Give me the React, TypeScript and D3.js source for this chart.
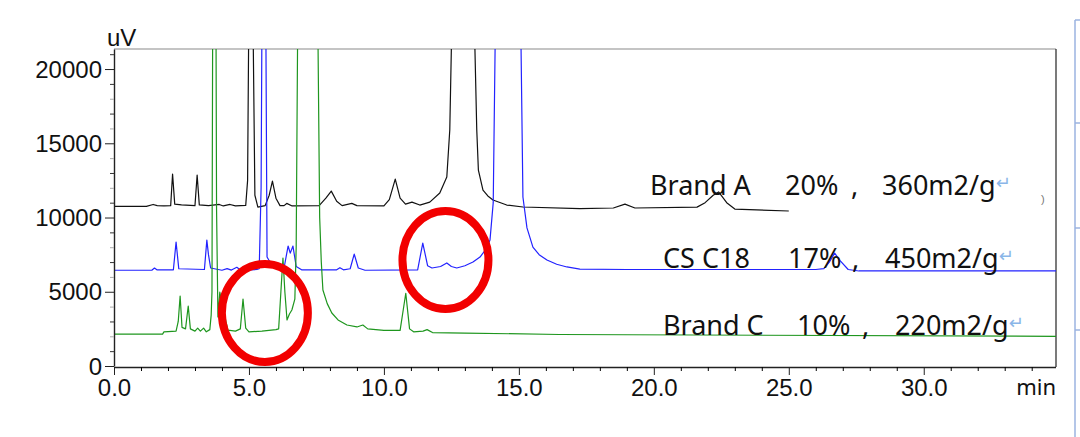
import { useEffect, useRef } from "react";
import * as d3 from "d3";

// [time (min), signal (uV)]
const brandA: [number, number][] = [
  [0, 10750], [1.2, 10750], [1.45, 10880], [1.6, 10800], [1.85, 10780], [2.1, 10800],
  [2.17, 12930], [2.25, 10900], [2.5, 10850], [3.0, 10800], [3.08, 12860], [3.16, 10850],
  [3.5, 10800], [3.9, 10880], [4.05, 10780], [4.3, 10880], [4.5, 10780], [4.88, 10820],
  [4.95, 12500], [5.0, 25000], [5.07, 40000], [5.14, 25000], [5.22, 11500], [5.33, 10700],
  [5.6, 10800], [5.75, 11500], [5.87, 12450], [6.0, 11300], [6.15, 10800], [6.3, 10800],
  [6.4, 10950], [6.6, 10780], [7.6, 10800], [7.85, 11300], [8.05, 11780], [8.25, 11100],
  [8.45, 10800], [8.81, 10950], [9.0, 10800], [10.0, 10780], [10.2, 11200], [10.42, 12590],
  [10.6, 11300], [10.8, 10900], [11.04, 11040], [11.33, 10840], [11.7, 11040], [12.07, 11650],
  [12.33, 12730], [12.44, 15900], [12.5, 21500], [12.7, 40000], [12.95, 60000], [13.2, 40000],
  [13.37, 21500], [13.44, 15900], [13.5, 13200], [13.67, 11850], [13.85, 11450], [14.04, 11180],
  [14.55, 10840], [15.15, 10710], [17.26, 10600], [18.5, 10640], [18.93, 10900], [19.3, 10640],
  [21.6, 10700], [21.9, 11000], [22.2, 11500], [22.4, 11720], [22.7, 11000], [23.0, 10570],
  [25.0, 10440],
];

const csC18: [number, number][] = [
  [0, 6450], [1.4, 6450], [1.5, 6600], [1.6, 6470], [2.2, 6480], [2.3, 8350], [2.4, 6550],
  [3.35, 6500], [3.44, 8480], [3.5, 7500], [3.58, 6600], [4.0, 6450], [4.19, 6560],
  [4.35, 6460], [4.55, 6650], [4.7, 6450], [5.3, 6500], [5.38, 6550], [5.45, 12000],
  [5.5, 30000], [5.56, 50000], [5.62, 25000], [5.67, 7340], [5.8, 6940], [6.0, 6700],
  [6.3, 6600], [6.45, 8080], [6.53, 7600], [6.63, 8080], [6.75, 6700], [6.95, 6480],
  [8.25, 6480], [8.37, 6620], [8.5, 6480], [8.75, 6550], [8.9, 7540], [9.05, 6600],
  [9.3, 6450], [11.25, 6480], [11.44, 8280], [11.62, 6750], [11.78, 6600], [12.1, 6700],
  [12.33, 6940], [12.5, 6700], [12.7, 6600], [13.0, 6750], [13.3, 7000], [13.56, 7340],
  [13.8, 7900], [13.93, 8480], [14.05, 11000], [14.12, 21500], [14.3, 40000], [14.6, 70000],
  [14.85, 40000], [15.08, 21500], [15.15, 11380], [15.3, 9300], [15.52, 8010], [15.75, 7500],
  [16.04, 7140], [16.4, 6850], [16.78, 6670], [17.26, 6530], [19.0, 6500], [26.0, 6500],
  [26.3, 6560], [26.5, 7000], [26.7, 7600], [26.9, 7100], [27.2, 6500], [27.6, 6400],
  [34.9, 6400],
];

const brandC: [number, number][] = [
  [0, 2150], [1.8, 2150], [1.85, 2300], [2.3, 2350], [2.38, 3000], [2.45, 4710], [2.52, 2600],
  [2.65, 2500], [2.75, 4040], [2.83, 2500], [3.0, 2350], [3.1, 2550], [3.2, 2350], [3.32, 2550],
  [3.42, 2300], [3.55, 2450], [3.6, 3430], [3.63, 5000], [3.68, 40000], [3.75, 40000],
  [3.8, 10500], [3.85, 3300], [3.92, 4980], [4.05, 3800], [4.22, 2420], [4.5, 2350],
  [4.68, 2500], [4.78, 4510], [4.88, 2550], [5.0, 2300], [5.48, 2350], [6.0, 2450],
  [6.1, 2500], [6.2, 5500], [6.26, 7270], [6.33, 5000], [6.41, 3100], [6.5, 3500],
  [6.59, 3770], [6.7, 4500], [6.75, 8000], [6.8, 21500], [7.0, 50000], [7.2, 60000],
  [7.4, 40000], [7.56, 21500], [7.62, 10000], [7.68, 7000], [7.74, 5120], [7.9, 4200],
  [8.07, 3570], [8.3, 3100], [8.63, 2760], [9.0, 2630], [9.22, 2760], [9.4, 2500],
  [10.0, 2400], [10.6, 2400], [10.81, 4900], [10.95, 2500], [11.1, 2300], [11.45, 2350],
  [11.6, 2450], [11.8, 2250], [13.0, 2220], [16.5, 2120], [34.9, 2000],
];

const seriesColors = ["#111111", "#2222ff", "#1e961e"];

const yMajor = [0, 5000, 10000, 15000, 20000];
const yMinor = d3.range(1000, 22000, 1000).filter((v) => v % 5000 !== 0);
const xMajor = [0, 5, 10, 15, 20, 25, 30];
const xMinor = d3.range(1, 35).filter((v) => v % 5 !== 0);

const legendNames = ["Brand A", "CS C18", "Brand C"];
const legendLoad = ["20%", "17%", "10%"];
const legendArea = ["360m2/g", "450m2/g", "220m2/g"];

// annotation circles: centre [min, uV]
const circles: [number, number][] = [
  [5.59, 3570],
  [12.28, 7140],
];

const App = () => {
  const ref = useRef<SVGSVGElement>(null);

  useEffect(() => {
    const W = 1080;
    const H = 437;
    const svg = d3.select(ref.current);
    svg.selectAll("*").remove();
    svg.attr("width", W).attr("height", H);

    svg.append("rect").attr("width", W).attr("height", H).attr("fill", "#fff");

    const left = 114;
    const right = 1056;
    const top = 49;
    const bottom = 366;

    const x = d3.scaleLinear().domain([0, 34.9]).range([left, right]);
    const y = d3.scaleLinear().domain([0, 21350]).range([bottom, top]);

    svg
      .append("defs")
      .append("clipPath")
      .attr("id", "plot-clip")
      .append("rect")
      .attr("x", left)
      .attr("y", top)
      .attr("width", right - left)
      .attr("height", bottom - top + 1);

    // frame
    svg.append("line").attr("x1", left).attr("x2", right).attr("y1", top).attr("y2", top)
      .attr("stroke", "#8a8a8a").attr("stroke-width", 1.2);
    svg.append("line").attr("x1", right).attr("x2", right).attr("y1", top).attr("y2", bottom + 1)
      .attr("stroke", "#222").attr("stroke-width", 1.2);

    const line = d3
      .line<[number, number]>()
      .x((d) => x(d[0]))
      .y((d) => y(d[1]));

    const traces = svg.append("g").attr("clip-path", "url(#plot-clip)");
    [brandA, csC18, brandC].forEach((s, i) => {
      traces
        .append("path")
        .datum(s)
        .attr("fill", "none")
        .attr("stroke", seriesColors[i])
        .attr("stroke-width", 1.2)
        .attr("stroke-linejoin", "round")
        .attr("d", line);
    });

    // axes
    const font = "'Liberation Sans', Arial, sans-serif";
    const yAxis = svg
      .append("g")
      .attr("transform", `translate(${left},0)`)
      .call(
        d3.axisLeft(y).tickValues(yMajor).tickSize(9).tickSizeOuter(0).tickPadding(3)
          .tickFormat((d) => String(d))
      );
    const yMinorG = svg
      .append("g")
      .attr("transform", `translate(${left},0)`)
      .call(d3.axisLeft(y).tickValues(yMinor).tickSize(4).tickFormat(() => ""));
    yMinorG.select(".domain").remove();
    yMinorG.selectAll(".tick line").attr("stroke", (d: any) => (d % 2000 === 0 ? "#aaa" : "#333"));

    const xAxis = svg
      .append("g")
      .attr("transform", `translate(0,${bottom + 1})`)
      .call(
        d3.axisBottom(x).tickValues(xMajor).tickSize(8).tickSizeOuter(0).tickPadding(5)
          .tickFormat(d3.format(".1f") as any)
      );
    const xMinorG = svg
      .append("g")
      .attr("transform", `translate(0,${bottom + 1})`)
      .call(d3.axisBottom(x).tickValues(xMinor).tickSize(4).tickFormat(() => ""));
    xMinorG.select(".domain").remove();

    [yAxis, xAxis].forEach((g) => {
      g.attr("font-family", null).attr("font-size", null);
      g.select(".domain").attr("stroke", "#222").attr("stroke-width", 1.4);
      g.selectAll(".tick line").attr("stroke", "#222");
      g.selectAll("text")
        .style("font-family", font)
        .style("font-size", "24px")
        .attr("fill", "#111");
    });
    yAxis.selectAll("text").attr("dy", "0.34em");
    xAxis.selectAll("text").attr("dy", "0.66em");
    // axis line ends at right frame
    xAxis.select(".domain").attr("d", `M${left},0.5H${right}`);

    svg.append("text").attr("x", 107).attr("y", 46).style("font-family", font)
      .style("font-size", "24px").attr("fill", "#111").text("uV");
    svg.append("text").attr("x", right).attr("y", 395).attr("text-anchor", "end")
      .style("font-family", "'Noto Sans', sans-serif").style("font-size", "22px")
      .attr("fill", "#111").text("min");

    // legend labels
    const rows = [
      { y: 195, xs: [650, 785, 851, 882] },
      { y: 268, xs: [663, 788, 852, 885] },
      { y: 335, xs: [663, 797, 862, 895] },
    ];
    rows.forEach((r, i) => {
      const t = svg
        .append("text")
        .attr("y", r.y)
        .style("font-family", "'Noto Sans', sans-serif")
        .style("font-size", "27px")
        .attr("fill", "#111");
      t.append("tspan").attr("x", r.xs[0]).text(legendNames[i]);
      t.append("tspan").attr("x", r.xs[1]).text(legendLoad[i]);
      t.append("tspan").attr("x", r.xs[2]).text(",");
      t.append("tspan").attr("x", r.xs[3]).text(legendArea[i]);
      t.append("tspan")
        .style("font-family", "'DejaVu Sans', sans-serif")
        .style("font-size", "18px")
        .attr("dy", -6)
        .attr("fill", "#8ab6e8")
        .text("↵");
    });

    // red annotation circles
    circles.forEach((c) => {
      svg
        .append("ellipse")
        .attr("cx", x(c[0]))
        .attr("cy", y(c[1]))
        .attr("rx", 43)
        .attr("ry", 49)
        .attr("fill", "none")
        .attr("stroke", "#f20000")
        .attr("stroke-width", 8);
    });

    // stray bits of the source page on the right
    svg.append("text").attr("x", 1041).attr("y", 203).style("font-family", font)
      .style("font-size", "11px").attr("fill", "#777").text(")");
    const page = svg.append("g").attr("stroke", "#9bb3e0").attr("stroke-width", 1.5);
    page.append("line").attr("x1", 1075).attr("x2", 1075).attr("y1", 20).attr("y2", H);
    [20, 123, 228, 330].forEach((yy) => {
      page.append("line").attr("x1", 1075).attr("x2", 1080).attr("y1", yy).attr("y2", yy);
    });

    return () => {
      svg.selectAll("*").remove();
    };
  }, []);

  return (
    <div style={{ position: "absolute", left: 0, top: 0, width: 1080, height: 437 }}>
      <svg ref={ref} style={{ display: "block" }} />
    </div>
  );
};

export default App;
